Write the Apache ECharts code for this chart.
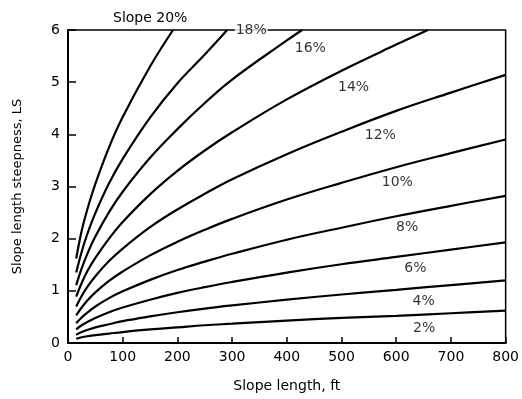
<!DOCTYPE html>
<html>
<head>
<meta charset="utf-8">
<script src="https://cdn.jsdelivr.net/npm/echarts@6/dist/echarts.min.js"></script>
<style>
  html, body { margin: 0; padding: 0; background: #fff; }
  #chart { width: 522px; height: 399px; }
</style>
</head>
<body>
<div id="chart"></div>
<script>
// slope length (ft) -> LS
const slopeNames = ['2%', '4%', '6%', '8%', '10%', '12%', '14%', '16%', '18%', '20%']
const lengths = [15, 25, 35, 50, 75, 100, 150, 200, 250, 300, 400, 500, 600, 700, 800]

const ls2 = [0.08, 0.11, 0.13, 0.15, 0.18, 0.21, 0.26, 0.30, 0.34, 0.37, 0.43, 0.48, 0.52, 0.57, 0.62]
const ls4 = [0.16, 0.21, 0.25, 0.30, 0.36, 0.42, 0.51, 0.59, 0.66, 0.72, 0.83, 0.93, 1.02, 1.11, 1.20]
const ls6 = [0.26, 0.34, 0.40, 0.48, 0.59, 0.68, 0.83, 0.96, 1.07, 1.17, 1.35, 1.51, 1.65, 1.79, 1.93]
const ls8 = [0.38, 0.49, 0.58, 0.70, 0.86, 0.99, 1.21, 1.40, 1.56, 1.71, 1.98, 2.21, 2.43, 2.63, 2.82]
const ls10 = [0.53, 0.68, 0.81, 0.97, 1.19, 1.37, 1.68, 1.94, 2.17, 2.38, 2.75, 3.07, 3.37, 3.64, 3.90]
const ls12 = [0.70, 0.90, 1.07, 1.28, 1.57, 1.81, 2.22, 2.56, 2.86, 3.14, 3.62, 4.05, 4.45, 4.80, 5.14]
const ls14 = [0.89, 1.15, 1.37, 1.63, 2.00, 2.32, 2.85, 3.30, 3.69, 4.04, 4.67, 5.22, 5.72, 6.0]
const len14 = [15, 25, 35, 50, 75, 100, 150, 200, 250, 300, 400, 500, 600, 658]
const ls16 = [1.11, 1.43, 1.70, 2.04, 2.51, 2.90, 3.55, 4.10, 4.60, 5.05, 5.80, 6.0]
const len16 = [15, 25, 35, 50, 75, 100, 150, 200, 250, 300, 400, 428]
const ls18 = [1.35, 1.75, 2.08, 2.49, 3.06, 3.53, 4.32, 4.98, 5.53, 6.0]
const len18 = [15, 25, 35, 50, 75, 100, 150, 200, 250, 291]
const ls20 = [1.62, 2.15, 2.55, 3.05, 3.75, 4.33, 5.30, 6.0]
const len20 = [15, 25, 35, 50, 75, 100, 150, 192]

// inline curve labels (data coords)
const labelText = ['2%', '4%', '6%', '8%', '10%', '12%', '14%', '16%', '18%']
const labelX = [651, 650, 635, 620, 602, 571, 522, 443, 335]
const labelY = [0.29, 0.79, 1.44, 2.22, 3.08, 3.98, 4.90, 5.65, 6.0]

const font = 'DejaVu Sans, Liberation Sans, Arial, sans-serif'

function pairs(xs, ys) {
  return ys.map((v, i) => [xs[i], v])
}

const curves = [
  pairs(lengths, ls2), pairs(lengths, ls4), pairs(lengths, ls6), pairs(lengths, ls8),
  pairs(lengths, ls10), pairs(lengths, ls12), pairs(len14, ls14), pairs(len16, ls16),
  pairs(len18, ls18), pairs(len20, ls20),
]

const series = curves.map((d, i) => ({
  name: slopeNames[i],
  type: 'line',
  data: d,
  smooth: 0.4,
  symbol: 'none',
  silent: true,
  clip: false,
  lineStyle: { color: '#000', width: 2.2 },
}))

series.push({
  name: 'labels',
  type: 'scatter',
  symbolSize: 0,
  silent: true,
  z: 5,
  data: labelText.map((t, i) => ({ value: [labelX[i], labelY[i]], name: t })),
  label: {
    show: true,
    position: 'inside',
    formatter: p => p.name,
    color: '#000',
    fontFamily: font,
    fontSize: 14,
    backgroundColor: '#fff',
    padding: [0, 1],
  },
})

const chart = echarts.init(document.getElementById('chart'), null, { renderer: 'canvas' })
chart.setOption({
  animation: false,
  backgroundColor: '#fff',
  title: {
    text: 'Slope 20%',
    left: 108,
    top: 6,
    textStyle: { fontFamily: font, fontSize: 14, fontWeight: 'normal', color: '#000' },
  },
  grid: {
    left: 68, right: 16, top: 30, bottom: 56,
    show: true, borderColor: '#000', borderWidth: 1.5,
  },
  xAxis: {
    type: 'value',
    min: 0, max: 800, interval: 100,
    name: 'Slope length, ft',
    nameLocation: 'middle',
    nameGap: 36,
    nameTextStyle: { fontFamily: font, fontSize: 14, color: '#000' },
    axisLine: { lineStyle: { color: '#000', width: 2 } },
    axisTick: { inside: true, length: 6, lineStyle: { color: '#000', width: 1.5 } },
    axisLabel: { fontFamily: font, fontSize: 14, color: '#000', margin: 7 },
    splitLine: { show: false },
  },
  yAxis: {
    type: 'value',
    min: 0, max: 6, interval: 1,
    name: 'Slope length steepness, LS',
    nameLocation: 'middle',
    nameGap: 44,
    nameTextStyle: { fontFamily: font, fontSize: 13, color: '#000' },
    axisLine: { lineStyle: { color: '#000', width: 2 } },
    axisTick: { inside: true, length: 8, lineStyle: { color: '#000', width: 1.5 } },
    axisLabel: { fontFamily: font, fontSize: 14, color: '#000', margin: 8 },
    splitLine: { show: false },
  },
  series,
})
</script>
</body>
</html>
